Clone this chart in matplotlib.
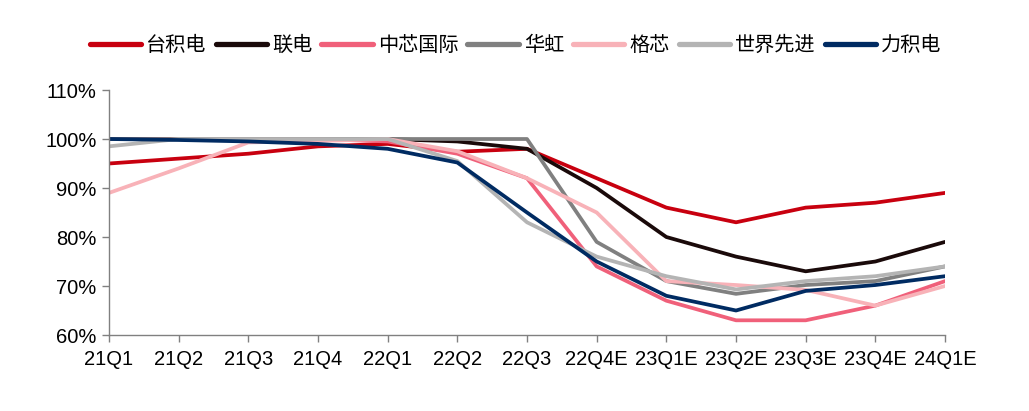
import matplotlib
matplotlib.use('Agg')
import matplotlib.pyplot as plt
from matplotlib.ticker import FuncFormatter

plt.rcParams['font.family'] = ['Liberation Sans', 'Noto Sans CJK SC', 'DejaVu Sans']

quarters = ['21Q1', '21Q2', '21Q3', '21Q4', '22Q1', '22Q2', '22Q3',
            '22Q4E', '23Q1E', '23Q2E', '23Q3E', '23Q4E', '24Q1E']

# utilization rate, %
tsmc = [95, 96, 97, 98.5, 99, 97.4, 98, 92, 86, 83, 86, 87, 89]
umc = [100, 100, 100, 100, 100, 99.5, 98, 90, 80, 76, 73, 75, 79]
smic = [100, 100, 100, 100, 99.5, 97, 92, 74, 67, 63, 63, 66, 71]
hua_hong = [100, 100, 100, 100, 100, 100, 100, 79, 71, 68.4, 70.2, 71, 74]
gf = [89, 94, 99.3, 99.6, 100, 97.5, 92, 85, 71, 70.2, 69.2, 66, 70]
vis = [98.5, 100, 100, 100, 100, 95.5, 83, 76, 72, 69.3, 71, 72, 74]
psmc = [100, 99.8, 99.5, 99, 98, 95.2, 85, 75, 68, 65, 69, 70.2, 72]

series = [
    ('台积电', tsmc, '#C8000F'),
    ('联电', umc, '#1A0A0A'),
    ('中芯国际', smic, '#F0607A'),
    ('华虹', hua_hong, '#808080'),
    ('格芯', gf, '#F8B2B8'),
    ('世界先进', vis, '#B4B4B4'),
    ('力积电', psmc, '#002B62'),
]

fig = plt.figure(figsize=(10.29, 4.11), dpi=100)
ax = fig.add_axes([0.1059, 0.1849, 0.8125, 0.5961])

x = list(range(len(quarters)))
for name, vals, color in series:
    ax.plot(x, vals, color=color, linewidth=2.7, label=name, solid_capstyle='round')

ax.set_xlim(0, len(quarters) - 1)
ax.set_ylim(60, 110)
ax.set_yticks([60, 70, 80, 90, 100, 110])
ax.yaxis.set_major_formatter(FuncFormatter(lambda v, p: f'{v:.0f}%'))
ax.set_xticks(x)
ax.set_xticklabels(quarters)

for side in ['top', 'right']:
    ax.spines[side].set_visible(False)
for side in ['left', 'bottom']:
    ax.spines[side].set_color('#808080')
    ax.spines[side].set_linewidth(1.0)
ax.tick_params(axis='both', colors='#808080', length=5, width=1.0,
               labelcolor='black', labelsize=14.5)
ax.tick_params(axis='x', pad=6)
ax.tick_params(axis='y', pad=4)

leg = fig.legend(loc='center', bbox_to_anchor=(0.501, 0.89), ncol=7, frameon=False,
                 prop={'family': ['Noto Sans CJK SC', 'DejaVu Sans'], 'size': 14.5},
                 handlelength=2.55, handletextpad=0.25, columnspacing=0.45)
for line in leg.get_lines():
    line.set_linewidth(3.8)

fig.savefig('out.png', dpi=100)
